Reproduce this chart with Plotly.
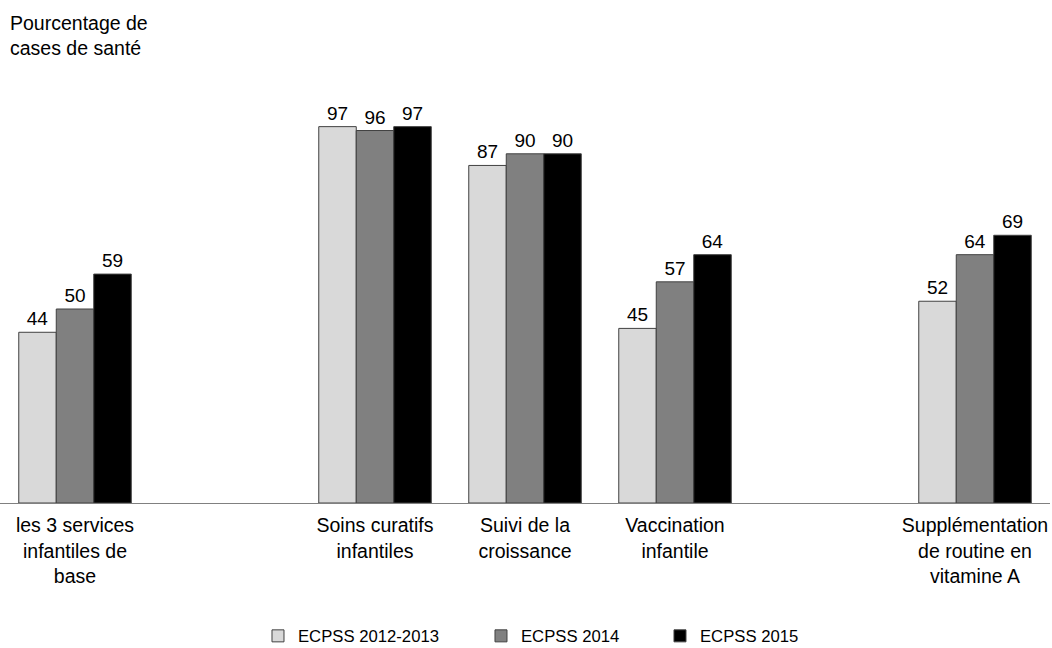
# Pourcentage de cases de santé offrant les services infantiles, par enquête ECPSS
import plotly.graph_objects as go

categories = ["les 3 services<br>infantiles de<br>base",
              "Soins curatifs<br>infantiles",
              "Suivi de la<br>croissance",
              "Vaccination<br>infantile",
              "Supplémentation<br>de routine en<br>vitamine A"]

# ordre de l'axe, avec deux emplacements vides
axis_order = [categories[0], " ", categories[1], categories[2],
              categories[3], "  ", categories[4]]

series_names = ["ECPSS 2012-2013", "ECPSS 2014", "ECPSS 2015"]
values_2012_2013 = [44, 97, 87, 45, 52]
values_2014 = [50, 96, 90, 57, 64]
values_2015 = [59, 97, 90, 64, 69]

colors = ["#d9d9d9", "#808080", "#000000"]
legend_widths = [178, 134, 120]

fig = go.Figure()
for name, vals, col, lw in zip(series_names,
                               [values_2012_2013, values_2014, values_2015],
                               colors, legend_widths):
    fig.add_trace(go.Bar(
        x=categories, y=vals, name=name,
        marker=dict(color=col, line=dict(color="#404040", width=1)),
        text=vals, textposition="outside",
        textfont=dict(size=19, color="#000000"),
        cliponaxis=False, legendwidth=lw))

# titre de l'axe des y, en haut à gauche
fig.add_annotation(text="Pourcentage de<br>cases de santé",
                   xref="paper", yref="paper", x=8 / 1050, y=(503 - 10) / 388,
                   xanchor="left", yanchor="top", align="left",
                   showarrow=False, font=dict(size=19.5))

fig.update_layout(
    width=1052, height=648,
    margin=dict(l=0, r=2, t=115, b=145),
    paper_bgcolor="white", plot_bgcolor="white",
    font=dict(family="Arial, Liberation Sans, sans-serif", size=19, color="#000000"),
    barmode="group", bargap=0.25, bargroupgap=0,
    legend=dict(orientation="h", x=0.2457, xanchor="left",
                yref="container", y=1 - 636 / 648, yanchor="middle",
                font=dict(size=16.7), traceorder="normal"),
    showlegend=True,
)
fig.update_xaxes(type="category", categoryorder="array", categoryarray=axis_order,
                 range=[-0.5, 6.5], showline=True, linecolor="#808080", linewidth=1,
                 ticks="", tickfont=dict(size=19.5), ticklabelstandoff=5,
                 showgrid=False)
fig.update_yaxes(range=[0, 100], visible=False, showgrid=False)

fig.write_html("out.html", config={"displayModeBar": False},
               post_script="document.body.style.margin='0';")
